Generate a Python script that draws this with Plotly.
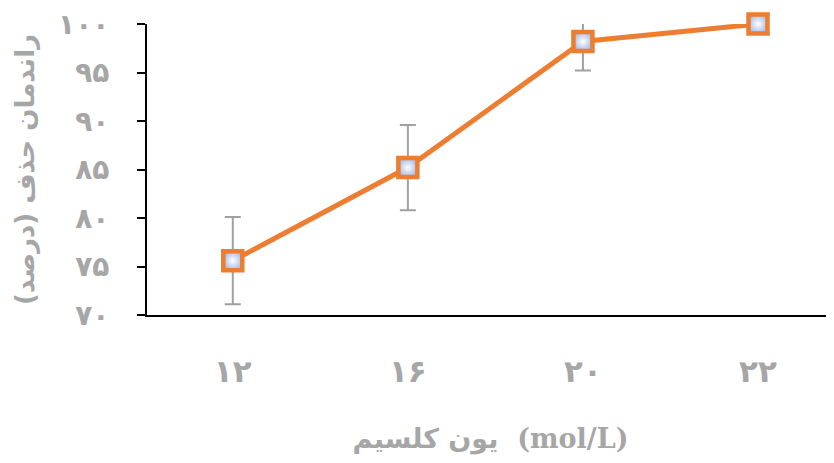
import plotly.graph_objects as go

# calcium ion concentration (mol/L) and removal efficiency (%)
x_pos = [0, 1, 2, 3]
x_labels = ["۱۲", "۱۶", "۲۰", "۲۲"]
removal = [75.6, 85.2, 98.2, 100.0]
err = [4.5, 4.4, 3.0, 0.0]

y_ticks = [70, 75, 80, 85, 90, 95, 100]
y_labels = ["۷۰", "۷۵", "۸۰", "۸۵", "۹۰", "۹۵", "۱۰۰"]

orange = "#ED7D31"
gray = "#A6A6A6"

fig = go.Figure()

# error bars alone, clipped to the plot area
fig.add_trace(go.Scatter(
    x=x_pos, y=removal, mode="markers",
    marker=dict(size=1, opacity=0),
    error_y=dict(type="data", array=err, visible=True,
                 color="#A0A0A0", thickness=2, width=8),
    cliponaxis=True, showlegend=False, hoverinfo="skip",
))

# line with markers (radial gradient: white centre, light blue edge)
fig.add_trace(go.Scatter(
    x=x_pos, y=removal, mode="lines+markers",
    line=dict(color=orange, width=5),
    marker=dict(symbol="square", size=19, color="#A9BEE6",
                gradient=dict(type="radial", color="white"),
                line=dict(color=orange, width=4.5)),
    cliponaxis=False, showlegend=False,
))

# page body has an 8px default margin, so the figure is shrunk to fit the window
fig.update_layout(
    width=826, height=447,
    margin=dict(l=139, r=0, t=16, b=140),
    plot_bgcolor="white", paper_bgcolor="white",
    xaxis=dict(
        range=[-0.49, 3.434],
        tickvals=x_pos, ticktext=["<b>%s</b>" % t for t in x_labels],
        tickfont=dict(family="DejaVu Sans", size=31, color=gray),
        showgrid=False, zeroline=False, automargin=False,
        showline=True, linecolor="black", linewidth=2,
        ticks="", ticklabelstandoff=28,
        title=dict(text="<b>یون کلسیم  (mol/L)</b>",
                   font=dict(family="DejaVu Serif, DejaVu Sans", size=27, color=gray),
                   standoff=42),
    ),
    yaxis=dict(
        range=[70, 100],
        tickvals=y_ticks, ticktext=["<b>%s</b>" % t for t in y_labels],
        tickfont=dict(family="DejaVu Sans", size=28, color=gray),
        ticklabeloverflow="allow",
        showgrid=False, zeroline=False, automargin="left",
        showline=True, linecolor="black", linewidth=2,
        ticks="outside", ticklen=8, tickwidth=2, tickcolor="black",
        ticklabelstandoff=22,
        title=dict(text="<b>راندمان حذف (درصد)</b>",
                   font=dict(family="DejaVu Sans", size=26, color=gray),
                   standoff=16),
    ),
)

fig.write_html("out.html")
